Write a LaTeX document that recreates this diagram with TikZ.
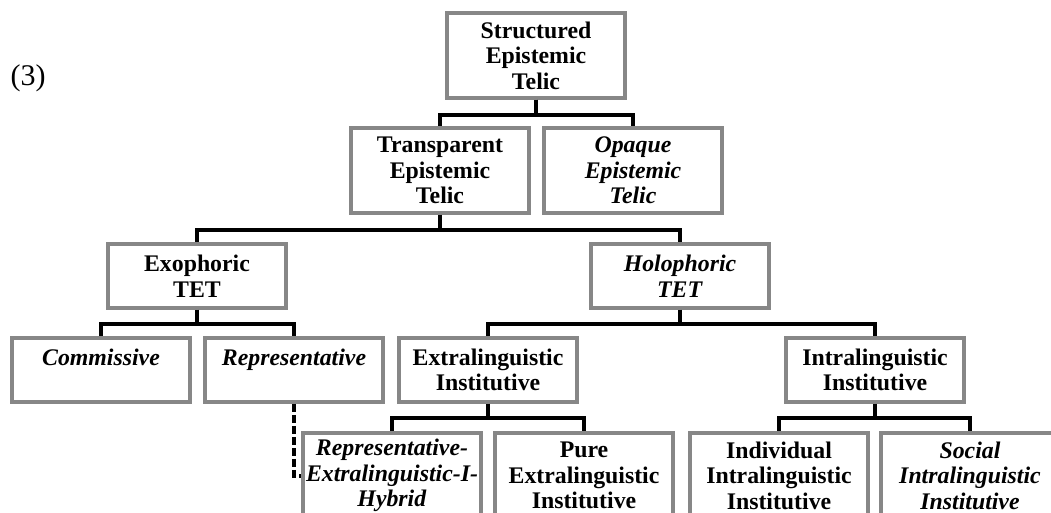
\documentclass[tikz,border=0pt]{standalone}
\usepackage{fontspec}
\setmainfont{Liberation Serif}
\definecolor{boxgray}{RGB}{135,135,135}
\begin{document}
\begin{tikzpicture}[x=1pt,y=-1pt,
    box/.style={draw=boxgray, line width=3.5pt, minimum width=178pt, inner sep=0pt,
      text width=176pt, align=center, font=\fontsize{23.8}{25.5}\selectfont\bfseries},
    tall/.style={box, minimum height=85pt},
    short/.style={box, minimum height=64pt},
    link/.style={line width=4pt},
    hybridlink/.style={link, dash pattern=on 8pt off 3pt}]
  \useasboundingbox (0,0) rectangle (1051,513);
  \clip (0,0) rectangle (1051,513);
  \node[font=\fontsize{30}{32}\selectfont] (num) at (28,78) {(3)};
% the boxes, row by row
  \node[tall] (top) at (536,55.5) {Structured\\Epistemic\\Telic};
  \node[tall] (trans) at (440,170.5) {Transparent\\Epistemic\\Telic};
  \node[tall] (opaque) at (633,170.5) {\textit{Opaque}\\\textit{Epistemic}\\\textit{Telic}};
  \node[short] (exo) at (197,276) {Exophoric\\TET};
  \node[short] (holo) at (680,276) {\textit{Holophoric}\\\textit{TET}};
  \node[short] (comm) at (101,370) {\textit{Commissive}\\\mbox{}};
  \node[short] (repr) at (294,370) {\textit{Representative}\\\mbox{}};
  \node[short] (extra) at (488,370) {Extralinguistic\\Institutive};
  \node[short] (intra) at (875,370) {Intralinguistic\\Institutive};
  \node[tall] (hybrid) at (392,475.5) {\textit{Representative-}\\\textit{Extralinguistic-I-}\\\textit{Hybrid}};
  \node[tall] (pure) at (584,475.5) {Pure\\Extralinguistic\\Institutive};
  \node[tall] (indiv) at (779,475.5) {Individual\\Intralinguistic\\Institutive};
  \node[tall] (social) at (970,475.5) {\textit{Social}\\\textit{Intralinguistic}\\\textit{Institutive}};
% the tree lines
  \draw[link] (top.south) -- ++(0,15) -| (trans.north);
  \draw[link] (top.south) -- ++(0,15) -| (opaque.north);
  \draw[link] (trans.south) -- ++(0,15.5) -| (exo.north);
  \draw[link] (trans.south) -- ++(0,15.5) -| (holo.north);
  \draw[link] (exo.south) -- ++(0,14) -| (comm.north);
  \draw[link] (exo.south) -- ++(0,14) -| (repr.north);
  \draw[link] (holo.south) -- ++(0,14) -| (extra.north);
  \draw[link] (holo.south) -- ++(0,14) -| (intra.north);
  \draw[link] (extra.south) -- ++(0,14) -| (hybrid.north);
  \draw[link] (extra.south) -- ++(0,14) -| (pure.north);
  \draw[link] (intra.south) -- ++(0,14) -| (indiv.north);
  \draw[link] (intra.south) -- ++(0,14) -| (social.north);
  \draw[hybridlink] (repr.south) |- (hybrid.west);
\end{tikzpicture}
\end{document}
